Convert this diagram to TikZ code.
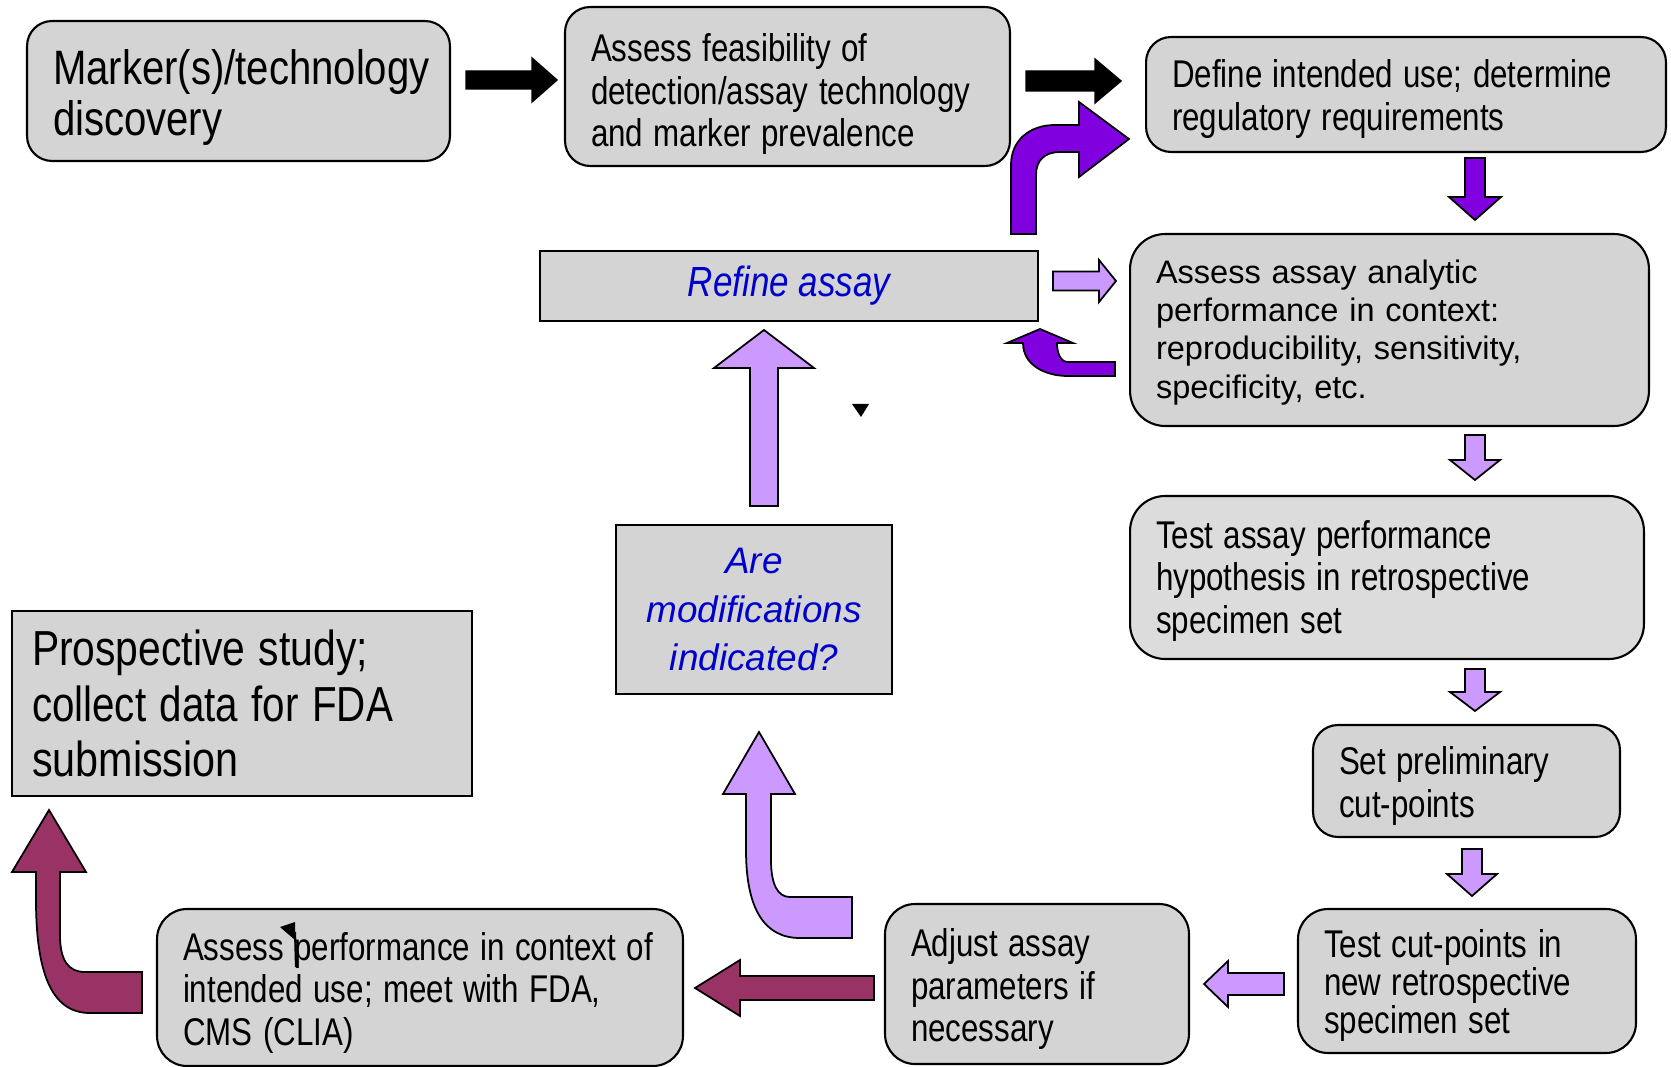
\documentclass[tikz,border=0pt]{standalone}
\usepackage{graphicx}
\usepackage{fontspec}
\setmainfont{Liberation Sans}
\newcommand\narrowline[2][0.81]{\scalebox{#1}[1]{#2}}

\definecolor{boxgray}{RGB}{212,212,212}
\definecolor{boxlight}{RGB}{220,220,220}
\definecolor{lilac}{RGB}{204,153,255}
\definecolor{violetdk}{RGB}{128,0,224}
\definecolor{maroonq}{RGB}{153,51,102}
\definecolor{qblue}{RGB}{0,0,204}

\tikzset{
  stepbox/.style={draw=black, line width=1.2pt, fill=boxgray, rounded corners=0.5cm,
    inner xsep=0.52cm, align=left},
  sqbox/.style={draw=black, line width=1.2pt, fill=boxgray, align=center},
  bigtxt/.style={font=\fontsize{27.5}{29}\selectfont},
  hugetxt/.style={font=\fontsize{28}{31.4}\selectfont},
  midtxt/.style={font=\fontsize{22}{24.2}\selectfont},
  tighttxt/.style={font=\fontsize{22}{21.8}\selectfont},
  widetxt/.style={font=\fontsize{18.5}{21.8}\selectfont},
  blkarrow/.style={draw=black, fill=black, line width=0.8pt},
  lilacarrow/.style={draw=black, fill=lilac, line width=1pt},
  violetarrow/.style={draw=black, fill=violetdk, line width=1pt},
  maroonarrow/.style={draw=black, fill=maroonq, line width=1pt},
  pics/barrow/.style args={#1/#2/#3/#4}{code={
    \draw[pic actions] (0,-#2) -- ({#1-#4},-#2) -- ({#1-#4},-#3) -- (#1,0)
      -- ({#1-#4},#3) -- ({#1-#4},#2) -- (0,#2) -- cycle;
  }}
}

\begin{document}
\begin{tikzpicture}[x=0.02cm, y=-0.02cm]
  \useasboundingbox (0,0) rectangle (1671,1067);

  % Top row
  \node[stepbox, bigtxt, text width=7.42cm, minimum height=2.8cm] (disc) at (238.5,91)
    {\rule{0pt}{27pt}\narrowline[0.83]{Marker(s)/technology}\\\narrowline[0.83]{discovery}};
  \node[stepbox, midtxt, text width=7.86cm, minimum height=3.18cm] (feas) at (787.5,86.5)
    {\rule{0pt}{24.5pt}\narrowline{Assess feasibility of}\\\narrowline{detection/assay technology}\\\narrowline{and marker prevalence}};
  \node[stepbox, midtxt, text width=9.36cm, minimum height=2.3cm] (intuse) at (1406,94.5)
    {\rule{0pt}{21pt}\narrowline{Define intended use; determine}\\\narrowline{regulatory requirements}};

  % Right column
  \node[stepbox, widetxt, rounded corners=0.7cm, text width=9.34cm, minimum height=3.84cm] (analytic) at (1389.5,330)
    {\rule{0pt}{16pt}Assess assay analytic\\performance in context:\\reproducibility, sensitivity,\\specificity, etc.};
  \node[stepbox, midtxt, fill=boxlight, rounded corners=0.7cm, text width=9.24cm, minimum height=3.26cm] (hypo) at (1387,577.5)
    {\rule{0pt}{19.5pt}\narrowline{Test assay performance}\\\narrowline{hypothesis in retrospective}\\\narrowline{specimen set}};
  \node[stepbox, midtxt, text width=5.1cm, minimum height=2.24cm] (prelim) at (1466.5,781)
    {\rule{0pt}{21.5pt}\narrowline{Set preliminary}\\\narrowline{cut-points}};
  \node[stepbox, tighttxt, rounded corners=0.6cm, text width=5.72cm, minimum height=2.88cm] (cutpts) at (1467,981)
    {\rule{0pt}{21pt}\narrowline{Test cut-points in}\\\narrowline{new retrospective}\\\narrowline{specimen set}};

  % Bottom row
  \node[stepbox, midtxt, rounded corners=0.6cm, text width=5.04cm, minimum height=3.2cm] (adjust) at (1037,984)
    {\rule{0pt}{22pt}\narrowline{Adjust assay}\\\narrowline{parameters if}\\\narrowline{necessary}};
  \node[stepbox, midtxt, rounded corners=0.6cm, text width=9.48cm, minimum height=3.14cm] (context) at (420,987.5)
    {\rule{0pt}{22pt}\narrowline{Assess performance in context of}\\\narrowline{intended use; meet with FDA,}\\\narrowline{CMS (CLIA)}};

  % Square boxes
  \node[sqbox, hugetxt, align=left, inner xsep=0.4cm, text width=8.4cm, minimum height=3.7cm] (prosp) at (242,703.5)
    {\narrowline[0.83]{Prospective study;}\\\narrowline[0.82]{collect data for FDA}\\\narrowline[0.84]{submission}};
  \node[sqbox, text=qblue, font=\itshape\fontsize{21}{27.8}\selectfont, minimum width=5.52cm, minimum height=3.38cm] (modif) at (754,609.5)
    {Are\\modifications\\indicated?};
  \node[sqbox, text=qblue, font=\itshape\fontsize{24}{26}\selectfont, minimum width=9.96cm, minimum height=1.4cm] (refine) at (789,286)
    {\narrowline[0.83]{Refine assay}};

  % Straight block arrows
  \pic[blkarrow] at (466,80) {barrow=91/9/22/25};
  \pic[blkarrow] at (1026,81) {barrow=95/10/22/26};
  \pic[violetarrow, rotate=-90] at (1475,158) {barrow=62/10/26/23};
  \pic[lilacarrow] at (1053,281) {barrow=63/9.5/21/17};
  \pic[lilacarrow, rotate=-90] at (1475,435) {barrow=45/10/25/20};
  \pic[lilacarrow, rotate=-90] at (1475,669) {barrow=42/10/25/19};
  \pic[lilacarrow, rotate=-90] at (1472,849) {barrow=47/10/25/22};
  \pic[lilacarrow, rotate=180] at (1284,984) {barrow=80/11/23/24};
  \pic[maroonarrow, rotate=180] at (874,988) {barrow=179/12/28/45};
  \pic[lilacarrow, rotate=90] at (764,506) {barrow=176/14/50/38};

  % Bent block arrows
  \draw[violetarrow] (1011,234) -- (1011,165) .. controls (1011,140) and (1030,125) .. (1055,125)
    -- (1079,125) -- (1079,102) -- (1129,139) -- (1079,177) -- (1079,152) -- (1060,152)
    .. controls (1045,152) and (1036,160) .. (1036,175) -- (1036,234) -- cycle;
  \draw[violetarrow] (1115,362) -- (1068,362) .. controls (1060,362) and (1057,352) .. (1057,343)
    -- (1073,343) -- (1040,329) -- (1007,343) -- (1023,343)
    .. controls (1023,365) and (1045,376) .. (1068,376) -- (1115,376) -- cycle;
  \draw[lilacarrow] (852,897) -- (790,897) .. controls (778,897) and (771,885) .. (771,860)
    -- (771,794) -- (795,794) -- (759,732) -- (723,794) -- (746,794) -- (746,850)
    .. controls (746,910) and (765,938) .. (800,938) -- (852,938) -- cycle;
  \draw[maroonarrow] (142,972) -- (85,972) .. controls (68,972) and (60,960) .. (60,935)
    -- (60,872) -- (86,872) -- (49,810) -- (12,872) -- (36,872) -- (36,900)
    .. controls (36,980) and (55,1013) .. (90,1013) -- (142,1013) -- cycle;

  % Stray marks
  \fill[black] (852,404) -- (869,404) -- (861,417) -- cycle;
  \fill[black] (280,927) -- (295,922) -- (295,940) -- cycle;
  \draw[black, line width=1.2pt] (295,932) -- (296,967);
\end{tikzpicture}
\end{document}
